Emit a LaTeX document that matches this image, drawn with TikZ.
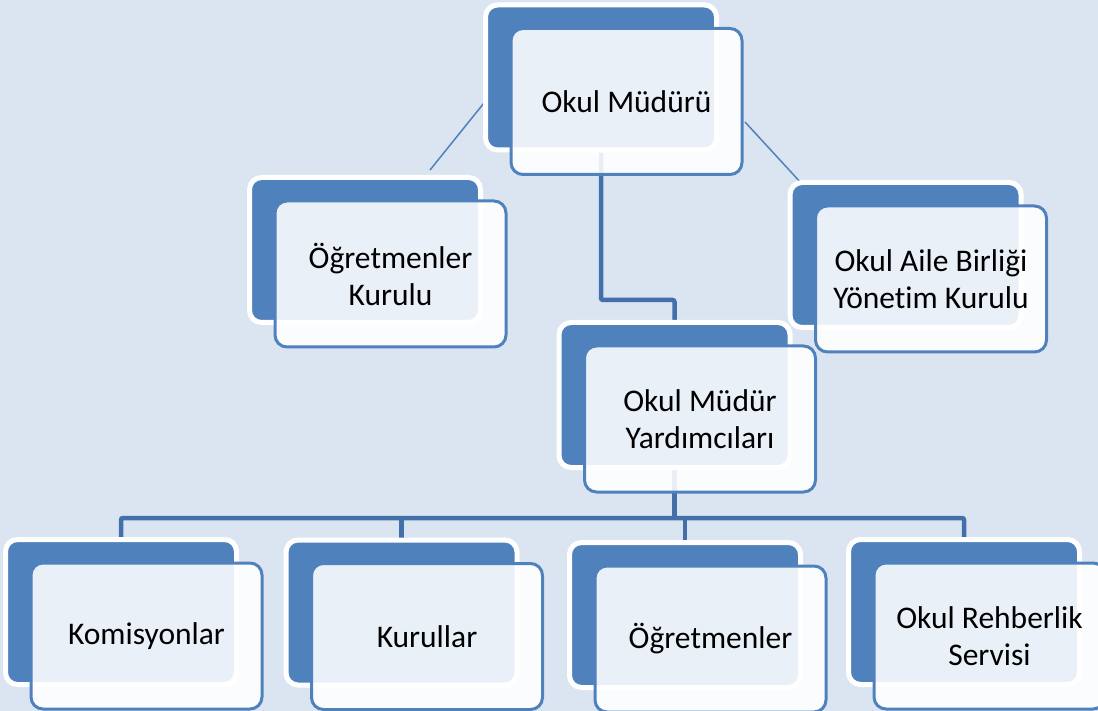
\documentclass[tikz,border=0pt]{standalone}
\usepackage{fontspec}
\setmainfont{Carlito}[Ligatures=NoCommon]
\usetikzlibrary{calc}
\definecolor{bgc}{HTML}{DBE5F1}
\definecolor{boxblue}{HTML}{4F81BD}
\definecolor{connc}{HTML}{4370A8}
\pgfdeclarelayer{bglayer}
\pgfdeclarelayer{connlayer}
\pgfsetlayers{bglayer,connlayer,main}
\begin{document}
\begin{tikzpicture}[x=1pt,y=-1pt,
  backbox/.style={draw=white, line width=5pt, fill=boxblue, rounded corners=12pt,
    minimum width=231pt, minimum height=145pt, inner sep=0pt, outer sep=0pt},
  frontbox/.style={draw=boxblue, line width=3pt, fill=white, fill opacity=0.885,
    text opacity=1, rounded corners=12pt, minimum width=231pt, minimum height=146pt,
    inner sep=0pt, outer sep=0pt, align=center,
    font=\fontsize{31.5}{37}\selectfont, text=black},
  conn/.style={draw=connc, line width=4.5pt, rounded corners=2pt},
  thinconn/.style={draw=boxblue, line width=1.5pt}]
\useasboundingbox (0,0) rectangle (1098,711);
\begin{pgfonlayer}{bglayer}
\fill[bgc] (0,0) rectangle (1098,711);
\end{pgfonlayer}

% units
\node[backbox] (mudB) at (601,77.5) {};
\node[frontbox] (mud) at ($(mudB)+(25.5,24)$) {Okul Müdürü};

\node[backbox] (okB) at (365,250) {};
\node[frontbox] (ok) at ($(okB)+(25.5,24)$) {Öğretmenler\\Kurulu};

\node[backbox] (oaB) at (905.5,255) {};
\node[frontbox] (oa) at ($(oaB)+(25.5,24)$) {Okul Aile Birliği\\Yönetim Kurulu};

\node[backbox] (yardB) at (674.5,395) {};
\node[frontbox] (yard) at ($(yardB)+(25.5,24)$) {Okul Müdür\\Yardımcıları};

\node[backbox] (komB) at (121,612) {};
\node[frontbox] (kom) at ($(komB)+(25.5,24)$) {Komisyonlar};

\node[backbox] (kurB) at (401.5,612.5) {};
\node[frontbox] (kur) at ($(kurB)+(25.5,24)$) {Kurullar};

\node[backbox] (ogrB) at (685,615) {};
\node[frontbox] (ogr) at ($(ogrB)+(25.5,24)$) {Öğretmenler};

\node[backbox] (rehB) at (964,612) {};
\node[frontbox] (reh) at ($(rehB)+(25.5,24)$) {Okul Rehberlik\\Servisi};

% connectors (behind the boxes)
\begin{pgfonlayer}{connlayer}
\draw[conn] ($(mudB.south)+(0,3)$) -- ($(mudB.south)+(0,150)$) -| (yardB.north);
\coordinate (bus) at ($(yardB.south)+(0,50.5)$);
\draw[conn] (yardB.south) -- (bus);
\draw[conn] (komB.north) |- (bus) -| (rehB.north);
\draw[conn] (kurB.north) -- (kurB.north |- bus);
\draw[conn] (ogrB.north) -- (ogrB.north |- bus);
\draw[thinconn] ($(mudB.west)+(2.5,20.5)$) -- ($(okB.north)+(65,-7.5)$);
\draw[thinconn] ($(mud.east)+(3,20.5)$) -- ($(oaB.north west)+(18,8)$);
\end{pgfonlayer}
\end{tikzpicture}
\end{document}
